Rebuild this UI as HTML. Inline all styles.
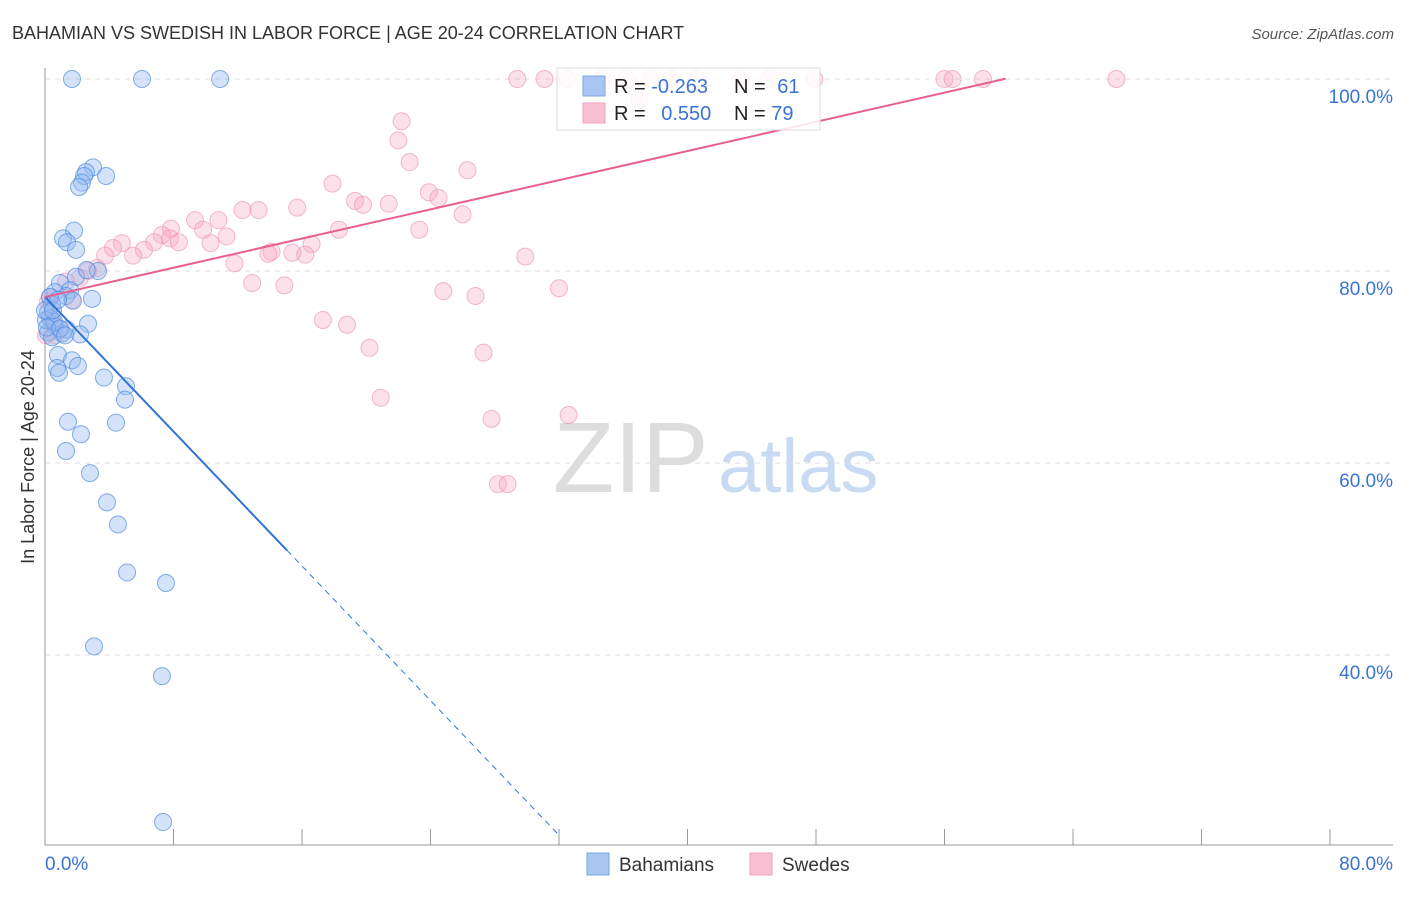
<!DOCTYPE html>
<html><head><meta charset="utf-8"><style>
body{margin:0;background:#fff;font-family:"Liberation Sans",sans-serif;}
svg text{font-family:"Liberation Sans",sans-serif;}
</style></head><body>
<svg id="c" width="1406" height="892" xmlns="http://www.w3.org/2000/svg">
<text x="12" y="39" font-size="18" fill="#333">BAHAMIAN VS SWEDISH IN LABOR FORCE | AGE 20-24 CORRELATION CHART</text>
<text x="1394" y="39" font-size="15" fill="#555" font-style="italic" text-anchor="end">Source: ZipAtlas.com</text>
<text x="34" y="457" font-size="18" fill="#333" text-anchor="middle" transform="rotate(-90 34 457)">In Labor Force | Age 20-24</text>
<g>
<text x="553" y="492" font-size="100" fill="#ddd" font-family="Liberation Serif,serif">ZIP</text>
<text x="718" y="492" font-size="76" fill="#c9dbf3">atlas</text>
</g>
<g id="grid"></g><g id="pts"></g><g id="lines"></g>
<g>
<rect x="557" y="68" width="263" height="62" fill="rgba(255,255,255,0.85)" stroke="#ddd"/>
<rect x="583" y="76" width="22" height="20" fill="#a9c6f2" stroke="#7aa6e6"/>
<rect x="583" y="103" width="22" height="20" fill="#f7bfd1" stroke="#f0a0ba"/>
<text x="614" y="93" font-size="20" fill="#222">R = <tspan fill="#3a73d6">-0.263</tspan></text>
<text x="734" y="93" font-size="20" fill="#222">N = <tspan fill="#3a73d6" dx="6">61</tspan></text>
<text x="614" y="120" font-size="20" fill="#222">R = <tspan fill="#3a73d6" dx="10">0.550</tspan></text>
<text x="734" y="120" font-size="20" fill="#222">N = <tspan fill="#3a73d6">79</tspan></text>
</g>
<g>
<rect x="587" y="853" width="22" height="22" fill="#a9c6f2" stroke="#7aa6e6"/>
<text x="619" y="871" font-size="19" fill="#333">Bahamians</text>
<rect x="750" y="853" width="22" height="22" fill="#f7bfd1" stroke="#f0a0ba"/>
<text x="782" y="871" font-size="19" fill="#333">Swedes</text>
</g>
</svg>
<script>
const blueX=[1.68,6.04,10.9,2.99,2.55,2.43,3.8,2.3,2.12,1.81,1.12,1.37,1.93,3.3,1.93,0.93,1.56,0.62,1.31,0.31,2.93,1.74,0.44,0.19,2.68,0.31,0.62,0.19,1.06,1.37,0.44,2.18,0.81,1.68,0.75,0.87,2.05,3.67,5.04,4.98,1.43,4.42,2.24,1.31,2.8,3.86,4.54,5.11,7.53,3.05,7.28,7.35,0.06,0.56,0.12,0.93,1.25,0,0.5,0.81,2.6];
const blueY=[100,100,100,90.8,90.3,89.9,89.9,89.2,88.75,84.2,83.4,83,82.2,80,79.4,78.75,78,77.8,77.4,77.3,77.1,76.9,76.5,75.7,74.5,75.1,74.3,73.6,73.5,73.9,73.1,73.4,71.25,70.7,69.9,69.4,70.1,68.9,68,66.6,64.3,64.2,63,61.25,58.95,55.9,53.6,48.6,47.5,40.9,37.8,22.6,74.9,74.7,74.1,74,73.3,75.9,75.9,77,80.1];
const pinkX=[29.4,31.1,32.5,34.7,36.2,37.7,39,40.6,43.3,45.1,47.9,37,56,56.5,58.4,66.7,22.2,22,22.7,26.3,17.9,23.9,24.5,19.3,19.8,21.4,26,12.3,13.3,15.7,9.34,10.8,7.84,7.78,7.28,9.84,11.3,8.34,6.79,10.3,4.79,4.23,6.16,5.48,3.74,18.3,16.6,14.1,13.9,15.4,16.2,23.3,11.8,29.9,3.24,2.68,2.18,12.9,14.9,24.8,26.8,32,17.3,18.8,20.2,27.3,20.9,27.8,32.6,28.2,28.8,0.31,0.19,1.68,0.44,0.62,0.93,0.06,1.31];
const pinkY=[100,100,100,100,100,100,100,100,100,100,100,97.8,100,100,100,100,95.6,93.6,91.35,90.5,89.1,88.2,87.6,87.3,86.9,87,85.9,86.35,86.35,86.6,85.3,85.3,84.4,83.4,83.75,84.3,83.6,83,83,82.9,82.9,82.4,82.2,81.6,81.6,84.3,82.8,82,81.8,81.9,81.7,84.3,80.8,81.5,80.3,80,79.3,78.75,78.5,77.9,77.4,78.2,74.9,74.4,72,71.5,66.8,64.6,65,57.8,57.8,77.2,76.8,77,74.9,73.3,73.9,73.3,78.9];
const yTicks=[100,80,60,40];
const yTickLabels=["100.0%","80.0%","60.0%","40.0%"];
const xTickVals=[0,8,16,24,32,40,48,56,64,72,80];
const blueTrend=[77.3,-1.752,15.07,32.07]; // intercept, slope, solid end, dashed end
const pinkTrend=[77.3,0.380,59.8];
const NS="http://www.w3.org/2000/svg";
const sx=v=>45+v*1285/80, sy=v=>79+(100-v)*9.6;
function mk(t,a,p){const e=document.createElementNS(NS,t);for(const k in a)e.setAttribute(k,a[k]);p.appendChild(e);return e;}
const g=document.getElementById('grid');
yTicks.forEach((v,i)=>{
 const l=mk('line',{x1:45,x2:1393,y1:sy(v),y2:sy(v),stroke:'#ddd','stroke-dasharray':'5,5'},g);
 
 
 const t=mk('text',{x:1393,y:sy(v)+24,'font-size':19,fill:'#3a73d6','text-anchor':'end'},g);t.textContent=yTickLabels[i];
 
 
});
const ax=mk('path',{d:'M45,68V845H1393',stroke:'#999',fill:'none'},g);


xTickVals.forEach(v=>{const l=mk('line',{x1:sx(v),x2:sx(v),y1:845,y2:829,stroke:'#999'},g);
 
 });
const x0=mk('text',{x:45,y:870,'font-size':19,fill:'#3a73d6'},g);x0.textContent='0.0%';


const x1=mk('text',{x:1393,y:870,'font-size':19,fill:'#3a73d6','text-anchor':'end'},g);x1.textContent='80.0%';


const p=document.getElementById('pts');
pinkX.forEach((x,i)=>{const c=mk('circle',{cx:sx(x),cy:sy(pinkY[i]),r:8.5,fill:'rgba(245,170,196,0.35)',stroke:'rgba(236,140,172,0.6)'},p);
 
 });
blueX.forEach((x,i)=>{const c=mk('circle',{cx:sx(x),cy:sy(blueY[i]),r:8.5,fill:'rgba(147,186,240,0.4)',stroke:'rgba(80,140,225,0.7)'},p);
 
 });
const L=document.getElementById('lines');
const bf=x=>blueTrend[0]+blueTrend[1]*x, pf=x=>pinkTrend[0]+pinkTrend[1]*x;
const b1=mk('line',{x1:sx(0),y1:sy(bf(0)),x2:sx(blueTrend[2]),y2:sy(bf(blueTrend[2])),stroke:'#2f74d9','stroke-width':2},L);


const b2=mk('line',{x1:sx(blueTrend[2]),y1:sy(bf(blueTrend[2])),x2:sx(blueTrend[3]),y2:sy(bf(blueTrend[3])),stroke:'#2f74d9','stroke-width':1,'stroke-dasharray':'6,5'},L);


const p1=mk('line',{x1:sx(0),y1:sy(pf(0)),x2:sx(pinkTrend[2]),y2:sy(pf(pinkTrend[2])),stroke:'#e8608c','stroke-width':2},L);


</script>
</body></html>
